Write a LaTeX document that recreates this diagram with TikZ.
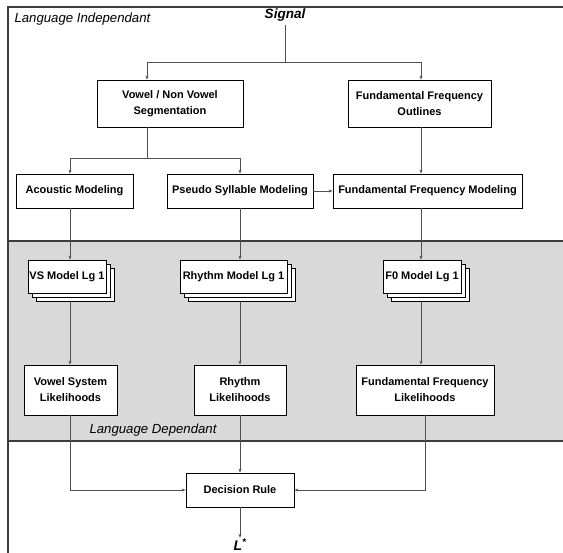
\documentclass[tikz,border=0pt]{standalone}
\usepackage{fontspec}
\setmainfont{Liberation Sans}
\usetikzlibrary{arrows.meta,shadows,calc}

\begin{document}
\begin{tikzpicture}[x=1pt,y=-1pt,
  box/.style={draw,line width=0.8pt,fill=white,inner sep=0pt,align=center,
    font=\bfseries\fontsize{11}{16}\selectfont},
  stack/.style={box,double copy shadow={shadow xshift=4pt,shadow yshift=-4pt}},
  link/.style={draw=linegray,line width=0.8pt},
  conn/.style={link,-{Stealth[length=4pt,width=3pt]}},
  title/.style={font=\itshape\fontsize{13.2}{16}\selectfont}]
\definecolor{bandgray}{RGB}{217,217,217}
\definecolor{linegray}{RGB}{80,80,80}
\definecolor{framegray}{RGB}{60,60,60}
\useasboundingbox (0,0) rectangle (563,553);
% language dependant band
\fill[bandgray] (8,241) rectangle (563,441);
\draw[framegray,line width=1.2pt] (8,241) -- (563,241) (8,441) -- (563,441);
% outer frame
\draw[framegray,line width=1.4pt] (563,7) -- (8,7) -- (8,553);

% columns of the connectors
\coordinate (colA) at (70,0);
\coordinate (colV) at (147,0);
\coordinate (colP) at (240,0);
\coordinate (colF) at (421,0);
\coordinate (colL) at (425,0);

\node[title,anchor=west] (indep) at (11,19) {Language Independant};
\node[title,font=\itshape\bfseries\fontsize{13.5}{16}\selectfont] (signal) at (285,15) {Signal};

\node[box,minimum width=146pt,minimum height=47pt] (vnv) at (170,103.5) {Vowel / Non Vowel\\Segmentation};
\node[box,minimum width=143pt,minimum height=47pt] (ffo) at (419.5,103.5) {Fundamental Frequency\\Outlines};

\node[box,minimum width=117pt,minimum height=34pt] (acou) at (74.5,191) {Acoustic Modeling};
\node[box,minimum width=146pt,minimum height=34pt] (psm) at (240,191) {Pseudo Syllable Modeling};
\node[box,minimum width=189pt,minimum height=34pt] (ffm) at (427.5,191) {Fundamental Frequency Modeling};

\node[stack,minimum width=78pt,minimum height=33pt] (vsm) at (67,276.5) {VS Model Lg 1};
\node[stack,minimum width=107pt,minimum height=33pt] (rhm) at (233.5,276.5) {Rhythm Model Lg 1};
\node[stack,minimum width=78pt,minimum height=33pt] (f0m) at (422,276.5) {F0 Model Lg 1};

\node[box,minimum width=93pt,minimum height=50pt] (vsl) at (70.5,390) {Vowel System\\Likelihoods};
\node[box,minimum width=92pt,minimum height=50pt] (rl) at (240,390) {Rhythm\\Likelihoods};
\node[box,minimum width=138pt,minimum height=50pt] (ffl) at (425,390) {Fundamental Frequency\\Likelihoods};

\node[title,anchor=west] (dep) at (86,430) {Language Dependant};

\node[box,minimum width=108pt,minimum height=34pt] (dr) at (240,490) {Decision Rule};
\node[font=\itshape\bfseries\fontsize{14}{16}\selectfont,inner sep=1pt] (lstar) at (240,545) {L\textsuperscript{*}};

% language independant part
\coordinate (split) at (285,62);
\coordinate (split2) at (147,158);
\draw[link] (signal.south -| split) -- (split);
\draw[conn] (split) -| (vnv.north -| colV);
\draw[conn] (split) -| (ffo.north -| colF);
\draw[link] (vnv.south -| colV) -- (split2);
\draw[conn] (split2) -| (acou.north -| colA);
\draw[conn] (split2) -| (psm.north -| colP);
\draw[conn] (ffo.south -| colF) -- (ffm.north -| colF);
\draw[conn] (psm.east) -- (ffm.west);

% models
\draw[conn] (acou.south -| colA) -- (vsm.north -| colA);
\draw[conn] (psm.south -| colP) -- (rhm.north -| colP);
\draw[conn] (ffm.south -| colF) -- (f0m.north -| colF);
\draw[conn] ($(vsm.south -| colA)+(0,9)$) -- (vsl.north -| colA);
\draw[conn] ($(rhm.south -| colP)+(0,9)$) -- (rl.north -| colP);
\draw[conn] ($(f0m.south -| colF)+(0,9)$) -- (ffl.north -| colF);

% decision
\draw[conn] (vsl.south -| colA) |- (dr.west);
\draw[conn] (rl.south -| colP) -- (dr.north -| colP);
\draw[conn] (ffl.south -| colL) |- (dr.east);
\draw[conn] (dr.south -| colP) -- (lstar.north -| colP);
\end{tikzpicture}
\end{document}
